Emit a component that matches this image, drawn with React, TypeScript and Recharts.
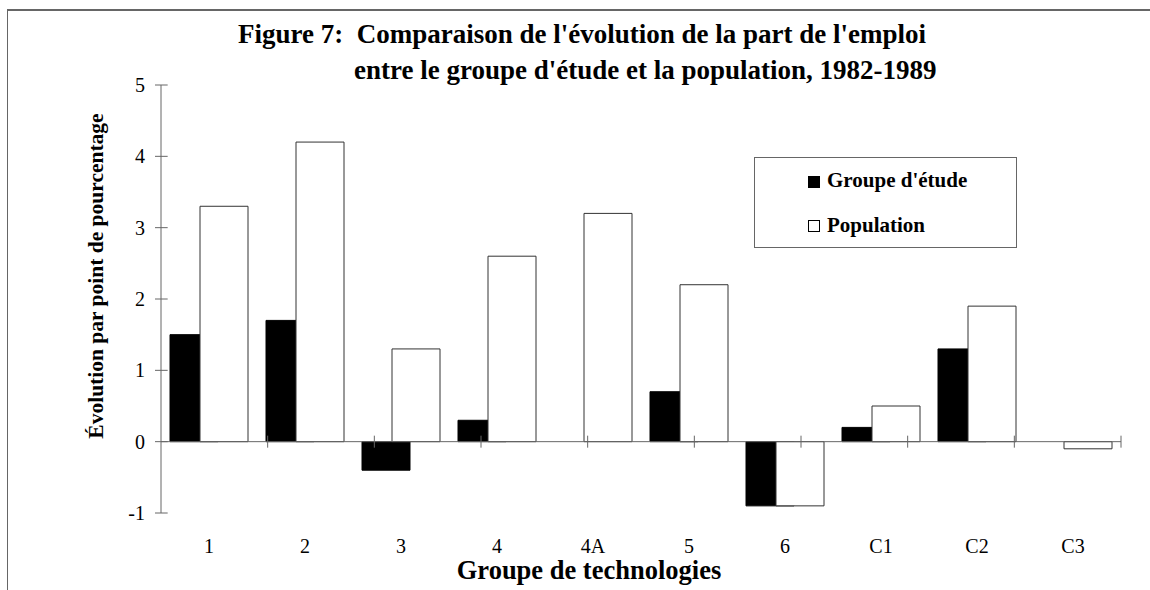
import React from "react";
import { BarChart, Bar, XAxis, YAxis, ReferenceLine } from "recharts";

// Figure 7 data
const categories = ["1", "2", "3", "4", "4A", "5", "6", "C1", "C2", "C3"];
const groupeEtude = [1.5, 1.7, -0.4, 0.3, 0, 0.7, -0.9, 0.2, 1.3, 0];
const population = [3.3, 4.2, 1.3, 2.6, 3.2, 2.2, -0.9, 0.5, 1.9, -0.1];
const yTicks = [-1, 0, 1, 2, 3, 4, 5];

const data = categories.map((cat, i) => ({
  cat,
  etude: groupeEtude[i],
  pop: population[i],
}));

const SERIF = "'Liberation Serif', 'Times New Roman', serif";
const AXIS = "#666";

// half-length of the crossing tick marks, in data units
const Y_HALF = 0.084;
const X_HALF = 0.0625;

export default function App() {
  const boundaries = categories.map((_, i) => i + 1);

  return (
    <div
      style={{
        position: "absolute",
        left: 0,
        top: 0,
        width: 1150,
        height: 590,
        background: "#fff",
        overflow: "hidden",
        fontFamily: SERIF,
      }}
    >
      {/* outer frame (only left + top edges visible) */}
      <div
        style={{
          position: "absolute",
          left: 7,
          top: 9,
          width: 1200,
          height: 700,
          borderLeft: `1px solid ${AXIS}`,
          borderTop: `2px solid ${AXIS}`,
        }}
      />

      <BarChart
        width={1150}
        height={590}
        data={data}
        margin={{ top: 85, right: 29, bottom: 0, left: 0 }}
        barSize={48}
        barGap={-18}
        style={{ position: "absolute", left: 0, top: 0 }}
      >
        <XAxis
          xAxisId="cat"
          dataKey="cat"
          axisLine={false}
          tickLine={false}
          tickSize={0}
          tickMargin={26}
          height={77}
          interval={0}
          tick={{ fontSize: 20, fill: "#000", fontFamily: SERIF }}
        />
        <XAxis xAxisId="num" type="number" domain={[0, 10]} hide />
        <YAxis
          width={161}
          domain={[-1, 5]}
          ticks={yTicks}
          interval={0}
          tickSize={6}
          tickMargin={10}
          axisLine={{ stroke: AXIS }}
          tickLine={{ stroke: AXIS }}
          tick={{ fontSize: 20, fill: "#000", fontFamily: SERIF }}
        />

        <Bar
          xAxisId="cat"
          dataKey="etude"
          fill="#000"
          stroke="#000"
          isAnimationActive={false}
        />
        <Bar
          xAxisId="cat"
          dataKey="pop"
          fill="#fff"
          stroke="#333"
          isAnimationActive={false}
        />

        <ReferenceLine xAxisId="num" y={0} stroke={AXIS} />
        {/* right halves of the y ticks */}
        {yTicks.map((t) => (
          <ReferenceLine
            key={`yt-${t}`}
            xAxisId="num"
            segment={[
              { x: 0, y: t },
              { x: X_HALF, y: t },
            ]}
            stroke={AXIS}
          />
        ))}
        {/* category boundary ticks on the zero line */}
        {boundaries.map((b) => (
          <ReferenceLine
            key={`xb-${b}`}
            xAxisId="num"
            segment={[
              { x: b, y: -Y_HALF },
              { x: b, y: Y_HALF },
            ]}
            stroke={AXIS}
          />
        ))}
      </BarChart>

      {/* titles and legend */}
      <svg
        width={1150}
        height={590}
        style={{ position: "absolute", left: 0, top: 0, pointerEvents: "none" }}
      >
        <g fontFamily={SERIF} fontWeight="bold" fill="#000">
          <text x={238} y={43} fontSize={27}>
            Figure 7:{"\u00a0\u00a0"}Comparaison de l'évolution de la part de l'emploi
          </text>
          <text x={354} y={79} fontSize={27}>
            entre le groupe d'étude et la population, 1982-1989
          </text>
          <text
            x={0}
            y={0}
            fontSize={21.5}
            textAnchor="middle"
            dy="0.35em"
            transform="translate(95 276) rotate(-90)"
          >
            Évolution par point de pourcentage
          </text>
          <text x={589} y={579} fontSize={26.5} textAnchor="middle">
            Groupe de technologies
          </text>

          <rect x={754.5} y={157.5} width={262} height={90} fill="#fff" stroke={AXIS} />
          <rect x={808} y={176} width={12} height={12} fill="#000" />
          <text x={827} y={187} fontSize={21}>
            Groupe d'étude
          </text>
          <rect x={808.5} y={220.5} width={11} height={11} fill="#fff" stroke="#000" />
          <text x={827} y={232} fontSize={21}>
            Population
          </text>
        </g>
      </svg>
    </div>
  );
}
